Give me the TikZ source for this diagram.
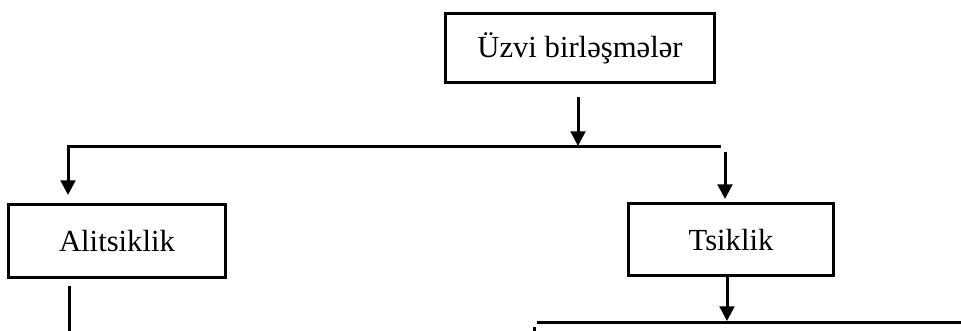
\documentclass[tikz,border=0pt]{standalone}
\usepackage{fontspec}
\setmainfont{Liberation Serif}
\usetikzlibrary{arrows.meta}

\begin{document}
\begin{tikzpicture}[x=.75pt,y=-.75pt,line width=2.25pt,
  blok/.style={draw, rectangle, inner sep=0pt, font=\fontsize{23}{27}\selectfont},
  ox/.style={-{Triangle[length=11pt,width=11pt]}}]
          \useasboundingbox (0,0) rectangle (961,331);
          % qutular
          \node (uzvi) at (580,48) [blok, minimum width=202pt, minimum height=52pt] {Üzvi birləşmələr};
          \node (alits) at (117,241) [blok, minimum width=163pt, minimum height=55pt] {Alitsiklik};
          \node (tsik) at (731,240) [blok, minimum width=154pt, minimum height=54pt] {Tsiklik};
          % xetler
          \coordinate (u1) at (578,97);
          \coordinate (u2) at (578,146);
          \coordinate (hl) at (67,147);
          \coordinate (hr) at (721,147);
          \coordinate (l1) at (68,147);
          \coordinate (l2) at (68,195);
          \coordinate (r1) at (725,152);
          \coordinate (r2) at (725,199);
          \coordinate (a1) at (69,286);
          \coordinate (a2) at (69,331);
          \coordinate (t1) at (tsik.south -| 727,0);
          \coordinate (t2) at (727,321);
          \coordinate (bl) at (537,323);
          \coordinate (br) at (961,323);
          \coordinate (n1) at (534,327);
          \coordinate (n2) at (534,331);
          \draw[ox] (u1) -- (u2);
          \draw (hl) -- (hr);
          \draw[ox] (l1) -- (l2);
          \draw[ox] (r1) -- (r2);
          \draw (a1) -- (a2);
          \draw[ox] (t1) -- (t2);
          \draw (bl) -- (br);
          \draw (n1) -- (n2);
        \end{tikzpicture}
\end{document}
